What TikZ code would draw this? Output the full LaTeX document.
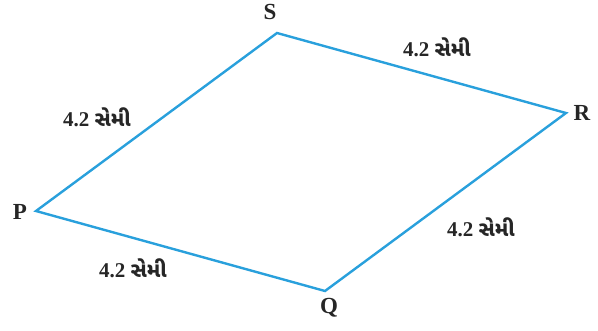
\documentclass[tikz,border=0pt]{standalone}
\usepackage{fontspec}
\setmainfont{Liberation Serif}
\newfontfamily\gujfont[Script=Gujarati]{Noto Sans Gujarati UI}
\begin{document}
\begin{tikzpicture}[x=1pt,y=-1pt,
  edge/.style={draw={rgb,255:red,41;green,160;blue,220}, line width=2.4pt, line join=miter},
  vlabel/.style={font=\fontsize{23}{26}\selectfont\bfseries, text=black!85},
  elabel/.style={font=\fontsize{21}{24}\selectfont\bfseries, text=black!85}]
\useasboundingbox (0,0) rectangle (598,330);
\coordinate (P) at (36,211);
\coordinate (S) at (277,33);
\coordinate (R) at (566,113);
\coordinate (Q) at (325,291);
\draw[edge] (P) -- (S) -- (R) -- (Q) -- cycle;
\node[vlabel] (lP) at (20,212) {P};
\node[vlabel] (lS) at (270,12) {S};
\node[vlabel] (lR) at (582,113) {R};
\node[vlabel] (lQ) at (329,308) {Q};
\node[elabel] (e1) at (97,117) {4.2 {\gujfont સેમી}};
\node[elabel] (e2) at (437,47) {4.2 {\gujfont સેમી}};
\node[elabel] (e3) at (481,227) {4.2 {\gujfont સેમી}};
\node[elabel] (e4) at (133,268) {4.2 {\gujfont સેમી}};
\end{tikzpicture}
\end{document}
